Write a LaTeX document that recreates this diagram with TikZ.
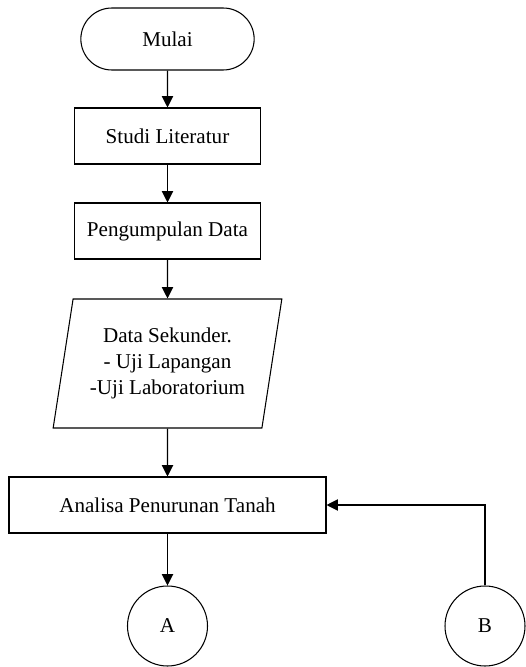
\documentclass[tikz,border=0pt]{standalone}
\usepackage{fontspec}
\setmainfont{Liberation Serif}
\usepackage{tikz}
\usetikzlibrary{positioning,shapes,arrows.meta}
\tikzstyle{term}=[draw, rounded rectangle, minimum height = 1.24cm, minimum width=3.7cm, line width=0.6pt, font=\fontsize{12}{14.8}\selectfont]
\tikzstyle{proc}=[draw, minimum height = 1.12cm, minimum width=3.72cm, line width=0.6pt, font=\fontsize{12}{14.8}\selectfont]
\tikzstyle{io}=[draw, trapezium, trapezium left angle=78, trapezium right angle=102, trapezium stretches=true, minimum height = 2.58cm, minimum width=4.58cm, align=center, line width=0.6pt, font=\fontsize{12}{14.8}\selectfont]
\tikzstyle{conn}=[draw, circle, minimum size=1.6cm, line width=0.6pt, font=\fontsize{12}{14.8}\selectfont]

\begin{document}
\begin{tikzpicture}[node distance=2cm,auto,>={Triangle[width=6.5pt,length=6.5pt]}]
\useasboundingbox (-3.35,0.78) rectangle (7.17,-12.56);
  \node[term] at (0,0) (mulai) {Mulai};
  \node[proc, below of = mulai, node distance = 1.94cm] (studi) {Studi Literatur};
\draw[->,line width=0.6pt] (mulai) -- (studi);

  \node[proc, below of = studi, node distance = 1.9cm] (data) {Pengumpulan Data};
\draw[->,line width=0.6pt] (studi) -- (data);

  \node[io, below of = data, node distance = 2.65cm] (sekunder) {Data Sekunder.\\- Uji Lapangan\\-Uji Laboratorium};
\draw[->,line width=0.6pt] (data) -- (sekunder);

  \node[proc, below of = sekunder, node distance = 2.83cm, minimum width = 6.34cm] (analisa) {Analisa Penurunan Tanah};
\draw[->,line width=0.6pt] (sekunder) -- (analisa);

  \node[conn, below of = analisa, node distance = 2.42cm] (a) {A};
\draw[->,line width=0.6pt] (analisa) -- (a);

  \node[conn, right of = a, node distance = 6.35cm] (b) {B};
\draw[->,line width=0.6pt] (b) |- (analisa);
\end{tikzpicture}
\end{document}
